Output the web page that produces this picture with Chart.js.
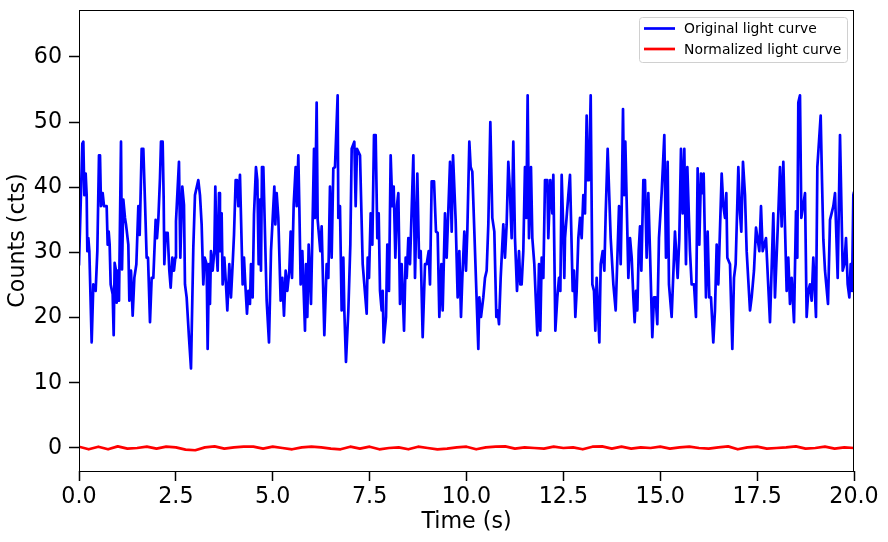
<!DOCTYPE html>
<html>
<head>
  <title>Light curve</title>
  <style>
    body { margin: 0; background: white; }
    #wrap { width: 888px; height: 542px; }
  </style>
</head>
<body>
  <div id="wrap"><canvas id="lc"></canvas></div>

  <script src="https://cdn.jsdelivr.net/npm/chart.js"></script>
  <script>
    // original light curve (time in s, counts in cts)
    const times = [
      0, 0.086, 0.112, 0.138, 0.172, 0.198, 0.215, 0.241, 0.267, 0.327, 0.370, 0.430, 0.473, 0.516, 0.542, 0.568, 0.611, 0.645, 0.714, 0.740,
      0.766, 0.791, 0.817, 0.869, 0.895, 0.920, 0.955, 0.972, 0.998, 1.032, 1.084, 1.110, 1.144, 1.187, 1.213, 1.273, 1.299, 1.342, 1.385, 1.428,
      1.480, 1.531, 1.566, 1.617, 1.660, 1.703, 1.746, 1.781, 1.832, 1.875, 1.918, 1.978, 2.013, 2.047, 2.090, 2.116, 2.159, 2.185, 2.202, 2.237,
      2.288, 2.331, 2.366, 2.409, 2.451, 2.486, 2.503, 2.580, 2.615, 2.666, 2.709, 2.735, 2.778, 2.838, 2.890, 2.950, 2.993, 3.079, 3.122, 3.165,
      3.208, 3.243, 3.294, 3.320, 3.355, 3.380, 3.406, 3.449, 3.492, 3.518, 3.552, 3.578, 3.613, 3.638, 3.681, 3.707, 3.750, 3.793, 3.828, 3.879,
      3.922, 3.965, 4.000, 4.043, 4.077, 4.111, 4.154, 4.223, 4.258, 4.292, 4.335, 4.370, 4.412, 4.438, 4.481, 4.516, 4.567, 4.602, 4.636, 4.671,
      4.696, 4.722, 4.757, 4.843, 4.903, 4.955, 5.041, 5.067, 5.101, 5.144, 5.204, 5.247, 5.290, 5.333, 5.376, 5.428, 5.462, 5.497, 5.540, 5.591,
      5.617, 5.660, 5.686, 5.720, 5.763, 5.832, 5.858, 5.892, 5.927, 5.987, 6.022, 6.065, 6.090, 6.133, 6.159, 6.228, 6.262, 6.331, 6.391, 6.434,
      6.477, 6.520, 6.563, 6.606, 6.675, 6.692, 6.735, 6.778, 6.822, 6.847, 6.890, 6.951, 7.002, 7.037, 7.105, 7.140, 7.174, 7.252, 7.321, 7.424,
      7.450, 7.484, 7.527, 7.570, 7.613, 7.656, 7.699, 7.734, 7.768, 7.811, 7.837, 7.863, 7.923, 7.957, 8.000, 8.043, 8.086, 8.121, 8.164, 8.207,
      8.241, 8.284, 8.327, 8.388, 8.430, 8.457, 8.499, 8.542, 8.628, 8.671, 8.731, 8.775, 8.818, 8.869, 8.929, 8.972, 9.024, 9.058, 9.101, 9.162,
      9.213, 9.256, 9.299, 9.351, 9.385, 9.445, 9.488, 9.575, 9.618, 9.652, 9.720, 9.772, 9.815, 9.858, 9.892, 9.944, 9.987, 10.021, 10.073, 10.107,
      10.150, 10.305, 10.331, 10.374, 10.434, 10.477, 10.520, 10.563, 10.615, 10.666, 10.718, 10.770, 10.804, 10.839, 10.882, 10.950, 10.993, 11.036, 11.079, 11.122,
      11.165, 11.208, 11.251, 11.303, 11.355, 11.389, 11.423, 11.466, 11.509, 11.544, 11.578, 11.613, 11.664, 11.699, 11.750, 11.828, 11.871, 11.905, 11.940, 11.983,
      12.026, 12.086, 12.111, 12.163, 12.215, 12.241, 12.293, 12.344, 12.387, 12.422, 12.456, 12.499, 12.525, 12.542, 12.628, 12.671, 12.740, 12.774, 12.809, 12.843,
      12.886, 12.929, 12.972, 13.015, 13.058, 13.101, 13.127, 13.160, 13.205, 13.248, 13.290, 13.325, 13.359, 13.428, 13.463, 13.514, 13.557, 13.592, 13.643, 13.721,
      13.790, 13.850, 13.936, 13.979, 14.005, 14.039, 14.065, 14.099, 14.177, 14.220, 14.263, 14.306, 14.340, 14.374, 14.409, 14.443, 14.478, 14.512, 14.564, 14.606,
      14.649, 14.692, 14.735, 14.795, 14.838, 14.881, 14.924, 14.967, 15.036, 15.105, 15.148, 15.191, 15.225, 15.294, 15.380, 15.449, 15.492, 15.535, 15.578, 15.621,
      15.664, 15.699, 15.767, 15.810, 15.871, 15.922, 15.965, 16.008, 16.051, 16.086, 16.120, 16.180, 16.223, 16.266, 16.309, 16.369, 16.412, 16.456, 16.499, 16.585,
      16.628, 16.671, 16.705, 16.731, 16.800, 16.860, 16.903, 16.946, 17.015, 17.058, 17.092, 17.135, 17.187, 17.230, 17.316, 17.359, 17.419, 17.471, 17.557, 17.600,
      17.643, 17.729, 17.832, 17.918, 17.961, 18.047, 18.090, 18.133, 18.176, 18.262, 18.305, 18.348, 18.391, 18.452, 18.503, 18.537, 18.563, 18.606, 18.641, 18.736,
      18.778, 18.821, 18.864, 18.907, 18.950, 19.019, 19.054, 19.140, 19.174, 19.209, 19.252, 19.329, 19.381, 19.467, 19.510, 19.579, 19.639, 19.708, 19.751, 19.794,
      19.837, 19.880, 19.914, 19.949, 19.983, 20.0
    ];
    const counts = [
      28, 46.7, 47, 38.8, 42.1, 38.8, 30.2, 32.2, 30.2, 16.2, 25.1, 24.1, 30.2, 44.9, 44.9, 37.1, 39.1, 37.1, 37.1, 31.2,
      33.2, 31.2, 25.1, 23.6, 17.3, 28.4, 27.2, 22.3, 27.2, 22.6, 47, 27.4, 38.1, 35.3, 34.3, 31.2, 22.6, 27.2, 20.3, 26.1,
      28.2, 37.1, 32.7, 45.9, 45.9, 37.8, 29.2, 29.2, 19.3, 26.1, 26.1, 35, 32.2, 35, 41.4, 47, 47, 38.3, 28.2, 33,
      33, 27.2, 24.6, 29.2, 27.2, 29.2, 34.8, 43.9, 29.2, 40.1, 37.3, 25.1, 23.1, 17.0, 12.2, 30.7, 38.8, 41.1, 38.8, 34.3,
      25.1, 29.2, 28.2, 15.2, 28.2, 22.1, 30.2, 27.2, 30.2, 40.1, 30.2, 27.2, 39.1, 30.2, 36.0, 25.1, 29.2, 25.1, 21.1, 28.2,
      23.1, 28.2, 32.7, 41.1, 41.1, 37.1, 41.9, 25.1, 29.2, 25.1, 20.6, 24.1, 22.1, 28.2, 23.1, 35.8, 43.1, 41.1, 28.2, 38.1,
      27.2, 43.1, 43.1, 22.6, 16.2, 30.2, 40.1, 34.3, 39.1, 35.3, 22.6, 26.1, 20.3, 27.2, 24.1, 27.2, 33.2, 26.1, 37.3, 43.1,
      37.1, 44.9, 37.1, 25.1, 30.2, 18.0, 28.2, 20.1, 31.2, 22.1, 32.7, 45.9, 35.3, 53.0, 35.0, 30.2, 34.0, 17.3, 28.2, 26.1,
      40.1, 29.2, 42.9, 43.1, 54.1, 35.3, 37.1, 21.1, 29.2, 21.1, 13.2, 21.1, 31.2, 45.9, 47.0, 37.1, 45.9, 44.9, 28.2, 20.6,
      29.2, 26.1, 36.0, 31.2, 48.0, 48.0, 32.2, 36.0, 24.1, 21.1, 24.1, 16.2, 20.1, 31.2, 24.1, 44.9, 37.1, 40.1, 29.2, 37.3,
      39.1, 22.1, 28.2, 18.0, 29.2, 26.1, 32.2, 28.2, 44.9, 26.1, 42.1, 29.2, 30.2, 17.0, 28.2, 28.2, 30.2, 25.1, 40.9, 40.9,
      33.2, 33.0, 20.1, 28.2, 21.1, 36.0, 29.2, 43.9, 33.2, 44.9, 35.0, 23.1, 30.2, 20.1, 26.1, 33.2, 27.2, 33.2, 47.0, 43.1,
      42.4, 15.2, 23.1, 20.1, 23.1, 26.1, 27.2, 34.3, 50.0, 35.3, 33.2, 20.1, 21.1, 19.0, 26.1, 34.3, 29.2, 34.3, 43.9, 39.3,
      32.2, 47.0, 32.2, 24.1, 30.2, 25.1, 25.1, 30.2, 43.1, 35.3, 54.1, 32.2, 43.1, 32.2, 28.2, 17.3, 28.2, 18.0, 29.2, 26.1,
      41.1, 41.1, 32.2, 41.1, 36.0, 41.9, 18.0, 23.1, 26.1, 24.1, 41.9, 33.2, 26.1, 32.2, 38.8, 41.9, 24.1, 27.2, 20.1, 24.1,
      32.2, 35.3, 32.2, 38.8, 36.0, 51.0, 41.1, 41.1, 54.1, 25.1, 24.1, 18.0, 26.1, 16.2, 28.2, 30.2, 27.2, 36.0, 45.9, 32.2,
      25.1, 21.1, 37.1, 28.2, 37.1, 52.0, 38.8, 47.0, 26.1, 32.2, 29.2, 23.1, 19.3, 24.1, 21.1, 30.2, 34.0, 27.2, 41.1, 41.1,
      29.2, 39.1, 30.2, 17.0, 23.1, 23.1, 19.0, 32.2, 39.1, 48.0, 29.2, 43.9, 25.1, 20.1, 33.2, 26.1, 32.2, 45.9, 36.0, 45.9,
      28.2, 43.1, 30.2, 25.1, 25.1, 20.1, 42.9, 31.2, 42.1, 39.1, 42.1, 23.1, 33.2, 23.1, 23.1, 16.2, 21.1, 31.2, 25.1, 42.1,
      37.1, 35.3, 39.1, 29.2, 28.2, 15.2, 26.1, 28.2, 43.1, 36.0, 33.2, 43.9, 38.8, 30.2, 21.1, 23.1, 27.2, 33.8, 30.2, 37.1,
      30.2, 32.2, 19.3, 36.0, 23.1, 36.0, 43.1, 34.0, 43.9, 24.1, 29.2, 22.1, 26.1, 19.3, 36.3, 29.2, 53.0, 54.1, 35.3, 39.1,
      20.1, 24.1, 25.1, 22.6, 29.2, 20.1, 43.1, 51.0, 41.1, 32.0, 27.2, 22.1, 35.0, 37.1, 39.1, 26.1, 48.0, 27.2, 28.2, 32.2,
      25.1, 23.1, 28.2, 24.1, 38.8, 39.3
    ];

    // normalized light curve, sampled every 0.25 s
    const normStep = 0.25;
    const normValues = [
      0.2, -0.2, 0.2, -0.2, 0.25, -0.1, 0.0, 0.2, -0.1, 0.2,
      0.1, -0.25, -0.35, 0.1, 0.25, -0.1, 0.1, 0.2, 0.2, -0.1,
      0.2, 0.0, -0.2, 0.1, 0.2, 0.1, -0.1, -0.2, 0.2, -0.1,
      0.2, -0.2, 0.0, 0.1, -0.2, 0.2, 0.0, -0.2, -0.1, 0.1,
      0.2, -0.2, 0.1, 0.2, 0.25, -0.1, 0.1, 0.0, -0.1, 0.2,
      0.0, 0.1, -0.2, 0.2, 0.25, -0.1, 0.2, -0.1, 0.1, 0.0,
      0.2, -0.1, 0.1, 0.2, 0.0, -0.1, 0.1, 0.25, -0.2, 0.1,
      0.2, -0.1, 0.0, 0.1, 0.25, -0.1, 0.0, 0.2, -0.1, 0.1,
      0.0
    ];

    const xTicks = [0, 2.5, 5, 7.5, 10, 12.5, 15, 17.5, 20];
    const yTicks = [0, 10, 20, 30, 40, 50, 60];

    const FONT = "'DejaVu Sans', sans-serif";

    const origData = times.map((t, i) => ({ x: t, y: counts[i] }));
    const normData = normValues.map((v, i) => ({ x: i * normStep, y: v }));

    // full box round the plot, like matplotlib spines
    const frame = {
      id: 'frame',
      afterDatasetsDraw(chart) {
        const { ctx, chartArea: a } = chart;
        ctx.save();
        ctx.strokeStyle = 'black';
        ctx.lineWidth = 1;
        ctx.strokeRect(a.left + 0.5, a.top + 0.5, a.right - a.left - 1, a.bottom - a.top);
        ctx.restore();
      }
    };

    // legend box inside the top right corner
    const boxLegend = {
      id: 'boxLegend',
      afterDraw(chart) {
        const ctx = chart.ctx;
        const x0 = 639.5, y0 = 17.5, w = 208, h = 45;
        ctx.save();
        ctx.fillStyle = 'rgba(255,255,255,0.8)';
        ctx.strokeStyle = '#d0d0d0';
        ctx.lineWidth = 1;
        ctx.beginPath();
        ctx.roundRect(x0, y0, w, h, 3);
        ctx.fill();
        ctx.stroke();
        ctx.font = '13.9px ' + FONT;
        ctx.textBaseline = 'middle';
        chart.data.datasets.forEach((ds, i) => {
          const y = 28.5 + i * 20.5;
          ctx.strokeStyle = ds.borderColor;
          ctx.lineWidth = 2.7;
          ctx.beginPath();
          ctx.moveTo(644, y);
          ctx.lineTo(675, y);
          ctx.stroke();
          ctx.fillStyle = '#000';
          ctx.fillText(ds.label, 684, y + 1);
        });
        ctx.restore();
      }
    };

    const tickGrid = {
      display: true,
      drawOnChartArea: false,
      drawTicks: true,
      tickLength: 10,
      tickWidth: 1.5,
      tickColor: 'black'
    };

    new Chart(document.getElementById('lc'), {
      type: 'scatter',
      data: {
        datasets: [
          {
            label: 'Original light curve',
            data: origData,
            showLine: true,
            borderColor: '#0000ff',
            borderWidth: 2.7,
            borderJoinStyle: 'round',
            pointRadius: 0,
            tension: 0,
            clip: 0
          },
          {
            label: 'Normalized light curve',
            data: normData,
            showLine: true,
            borderColor: '#ff0000',
            borderWidth: 2.7,
            borderJoinStyle: 'round',
            pointRadius: 0,
            tension: 0,
            clip: 0
          }
        ]
      },
      options: {
        responsive: true,
        maintainAspectRatio: false,
        animation: false,
        layout: { padding: { top: 10, right: 34, left: 0, bottom: 0 } },
        plugins: { legend: { display: false }, tooltip: { enabled: false } },
        scales: {
          x: {
            type: 'linear',
            min: 0,
            max: 20,
            afterBuildTicks: s => { s.ticks = xTicks.map(v => ({ value: v })); },
            afterFit: s => { s.height = 71; s.paddingLeft = 0; s.paddingRight = 0; },
            grid: tickGrid,
            border: { display: false },
            ticks: {
              autoSkip: false,
              maxRotation: 0,
              padding: 3,
              color: 'black',
              font: { family: FONT, size: 22.2 },
              callback: v => v.toFixed(1)
            },
            title: {
              display: true,
              text: 'Time (s)',
              color: 'black',
              font: { family: FONT, size: 22.2 },
              padding: { top: 0, bottom: 6 }
            }
          },
          y: {
            type: 'linear',
            min: -3.53,
            max: 67.2,
            afterBuildTicks: s => { s.ticks = yTicks.map(v => ({ value: v })); },
            afterFit: s => { s.width = 79; s.paddingTop = 0; s.paddingBottom = 0; },
            grid: tickGrid,
            border: { display: false },
            ticks: {
              padding: 7,
              color: 'black',
              font: { family: FONT, size: 22.2 }
            },
            title: {
              display: true,
              text: 'Counts (cts)',
              color: 'black',
              font: { family: FONT, size: 22.2 },
              padding: { top: 5, bottom: 0 }
            }
          }
        }
      },
      plugins: [frame, boxLegend]
    });
  </script>
</body>
</html>
